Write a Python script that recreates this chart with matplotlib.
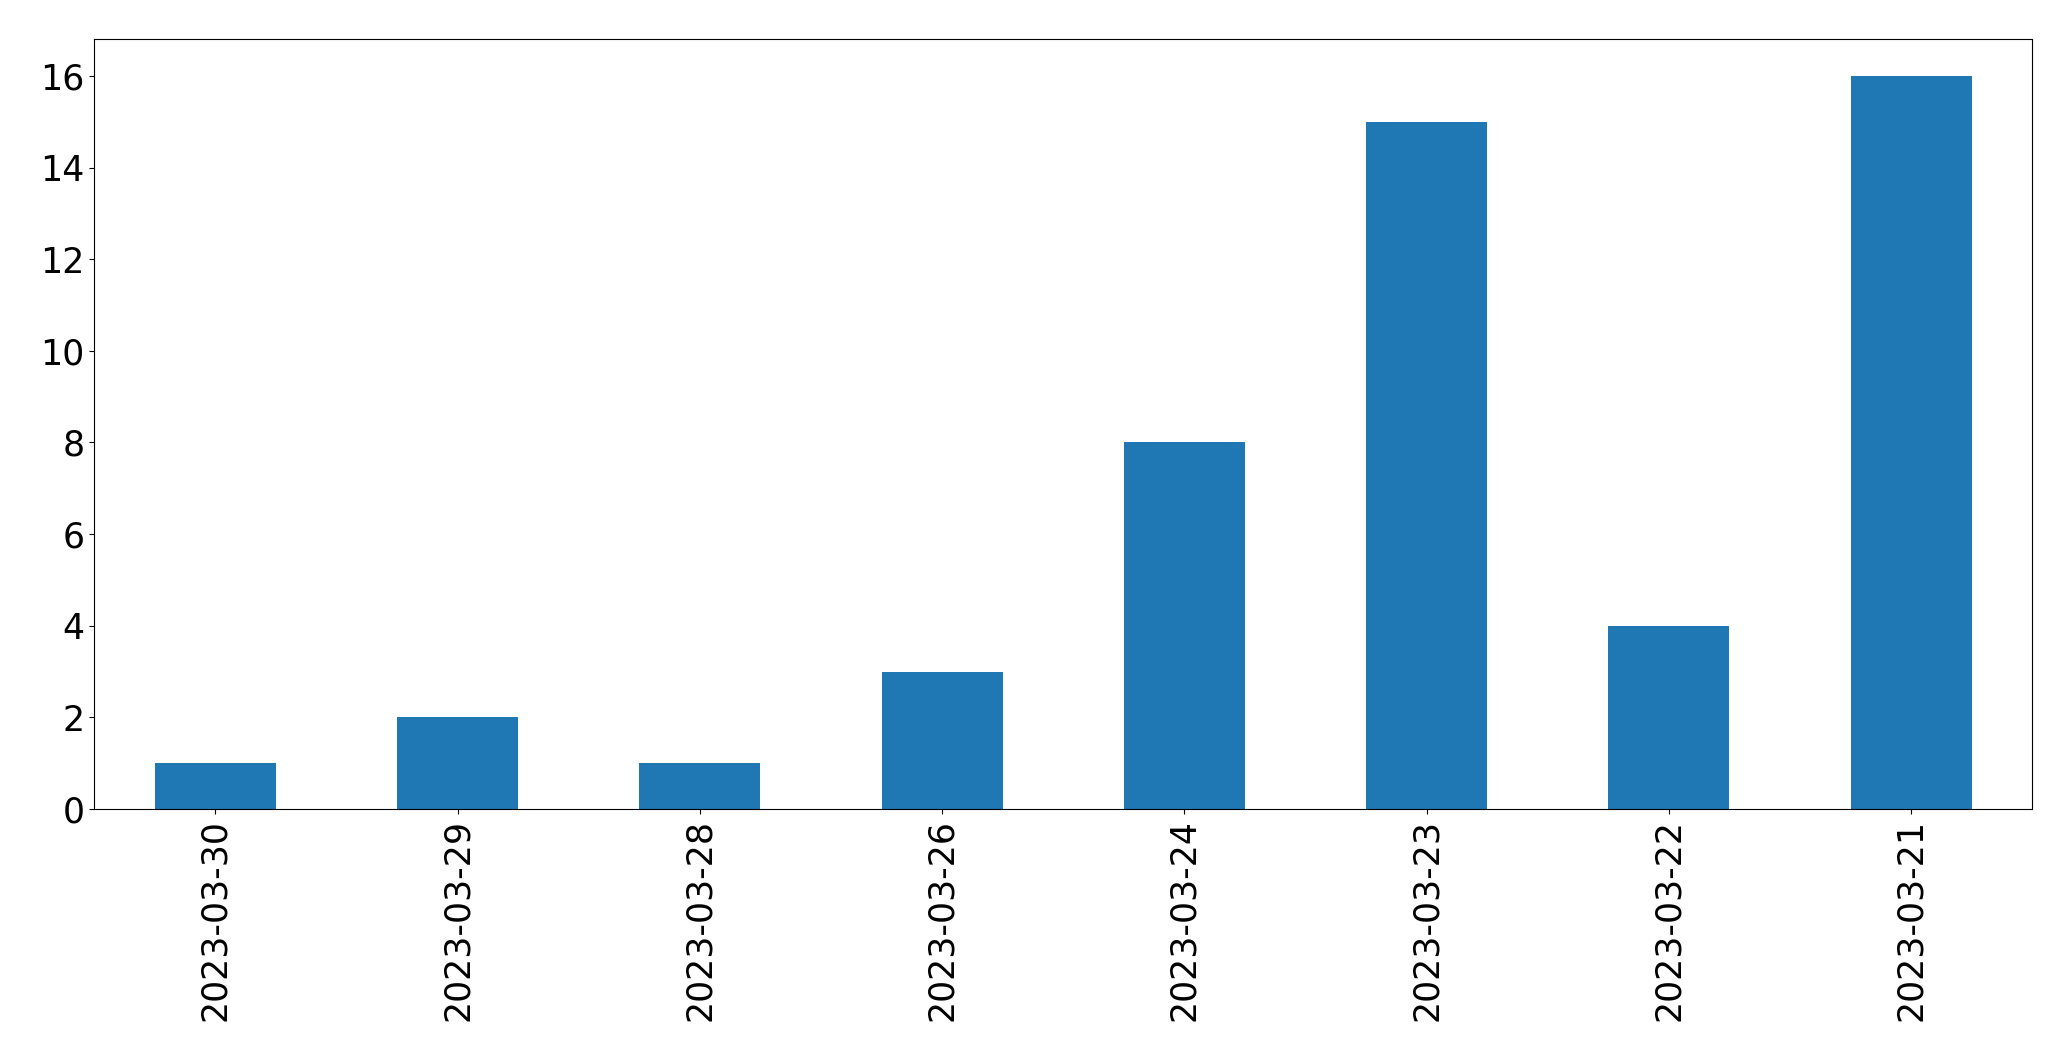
import pandas as pd
import matplotlib
matplotlib.use("Agg")
import matplotlib.pyplot as plt

# dates and counts, in the order they show in the chart
dates = ["2023-03-30", "2023-03-29", "2023-03-28", "2023-03-26",
         "2023-03-24", "2023-03-23", "2023-03-22", "2023-03-21"]
counts = [1, 2, 1, 3, 8, 15, 4, 16]

s = pd.Series(counts, index=dates)

fig, ax = plt.subplots(figsize=(20.71, 10.61), dpi=100)
s.plot(kind="bar", ax=ax, color="#1f77b4")

ax.tick_params(axis="both", labelsize=25)
fig.subplots_adjust(left=0.0455, right=0.9813, top=0.963, bottom=0.2375)

fig.savefig("out.png", dpi=100)
plt.close(fig)
